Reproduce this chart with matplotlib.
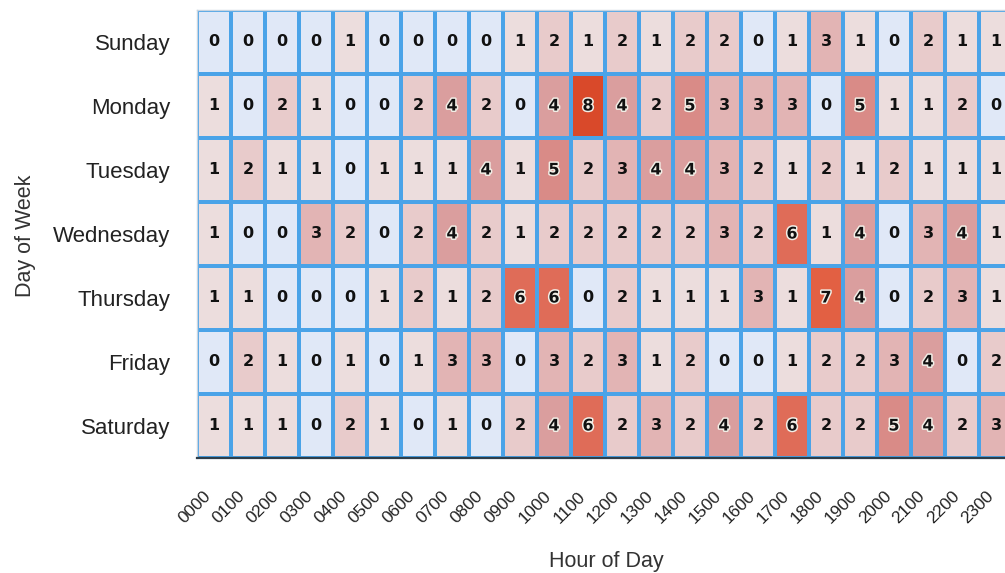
import numpy as np
import matplotlib
matplotlib.use("Agg")
import matplotlib.pyplot as plt
from matplotlib.colors import LinearSegmentedColormap, Normalize
import matplotlib.patheffects as pe

days = ["Sunday", "Monday", "Tuesday", "Wednesday", "Thursday", "Friday", "Saturday"]
hours = ["0000", "0100", "0200", "0300", "0400", "0500", "0600", "0700", "0800", "0900",
         "1000", "1100", "1200", "1300", "1400", "1500", "1600", "1700", "1800", "1900",
         "2000", "2100", "2200", "2300"]

sunday    = [0, 0, 0, 0, 1, 0, 0, 0, 0, 1, 2, 1, 2, 1, 2, 2, 0, 1, 3, 1, 0, 2, 1, 1]
monday    = [1, 0, 2, 1, 0, 0, 2, 4, 2, 0, 4, 8, 4, 2, 5, 3, 3, 3, 0, 5, 1, 1, 2, 0]
tuesday   = [1, 2, 1, 1, 0, 1, 1, 1, 4, 1, 5, 2, 3, 4, 4, 3, 2, 1, 2, 1, 2, 1, 1, 1]
wednesday = [1, 0, 0, 3, 2, 0, 2, 4, 2, 1, 2, 2, 2, 2, 2, 3, 2, 6, 1, 4, 0, 3, 4, 1]
thursday  = [1, 1, 0, 0, 0, 1, 2, 1, 2, 6, 6, 0, 2, 1, 1, 1, 3, 1, 7, 4, 0, 2, 3, 1]
friday    = [0, 2, 1, 0, 1, 0, 1, 3, 3, 0, 3, 2, 3, 1, 2, 0, 0, 1, 2, 2, 3, 4, 0, 2]
saturday  = [1, 1, 1, 0, 2, 1, 0, 1, 0, 2, 4, 6, 2, 3, 2, 4, 2, 6, 2, 2, 5, 4, 2, 3]

data = np.array([sunday, monday, tuesday, wednesday, thursday, friday, saturday])

cmap = LinearSegmentedColormap.from_list(
    "heat",
    ["#e0e8f7", "#ecdddd", "#e8cbcb", "#e2b4b4", "#da9e9e",
     "#d98c88", "#df6c58", "#e26144", "#d9492a"])
norm = Normalize(vmin=0, vmax=8)

plt.rcParams['font.family'] = ['Liberation Sans', 'DejaVu Sans']

W, H = 1005, 573
fig = plt.figure(figsize=(W / 100, H / 100), dpi=100)
left, right, top, bottom = 197, 1013, 10, 458
ax = fig.add_axes([left / W, 1 - bottom / H, (right - left) / W, (bottom - top) / H])

ax.pcolormesh(np.arange(len(hours) + 1), np.arange(len(days) + 1), data,
              cmap=cmap, norm=norm, edgecolors="#4aa3e8", linewidth=1.6)
ax.set_xlim(0, len(hours))
ax.set_ylim(len(days), 0)

for i in range(len(days)):
    for j in range(len(hours)):
        v = data[i, j]
        t = ax.text(j + 0.5, i + 0.5, str(v), ha="center", va="center",
                    fontsize=11.5, fontweight="bold", color="#111111",
                    family="DejaVu Sans")
        if v >= 4:
            t.set_path_effects([pe.withStroke(linewidth=2.2, foreground="#f2eee6")])

ax.set_xticks(np.arange(len(hours)) + 0.5)
ax.set_xticklabels(hours, rotation=45, ha="right", va="top", fontsize=12.5, color="#222222")
ax.set_yticks(np.arange(len(days)) + 0.5)
ax.set_yticklabels(days, fontsize=16, color="#222222")
ax.tick_params(axis="x", length=0, pad=22)
ax.tick_params(axis="y", length=0, pad=19)

for s in ["top", "left", "right"]:
    ax.spines[s].set_color("#c8d4e0")
    ax.spines[s].set_linewidth(1.0)
ax.spines["bottom"].set_color("#2e3e4a")
ax.spines["bottom"].set_linewidth(1.6)

fig.text(25 / W, 1 - 236 / H, "Day of Week", rotation=90, ha="center", va="center",
         fontsize=15.5, color="#333333")
fig.text(606 / W, 1 - 561 / H, "Hour of Day", ha="center", va="center",
         fontsize=15.5, color="#333333")

fig.savefig("out.png", dpi=100)
